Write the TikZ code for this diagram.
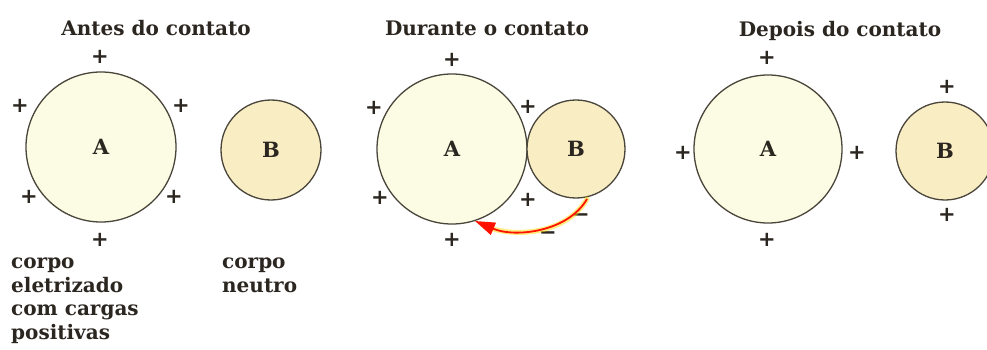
\documentclass[tikz,border=0pt]{standalone}
\usepackage{fontspec}
\setmainfont{DejaVu Serif}
\newfontfamily\lblfont{DejaVu Serif Bold}
\newfontfamily\signfont{DejaVu Sans Bold}
\usetikzlibrary{arrows.meta}
\definecolor{inkc}{HTML}{2B2620}
\definecolor{linec}{HTML}{4A453A}
\definecolor{fillA}{HTML}{FBFCE3}
\definecolor{fillB}{HTML}{F9EDC3}
\tikzset{
  ball/.style={circle, draw=linec, line width=1.3pt, inner sep=0pt, text=inkc,
    font=\lblfont\fontsize{21}{25}\selectfont},
  bigball/.style={ball, fill=fillA},
  smallball/.style={ball, fill=fillB},
  title/.style={anchor=base, inner sep=0pt, text=inkc, font=\lblfont\fontsize{20}{24}\selectfont},
  note/.style={anchor=base west, inner sep=0pt, align=left, text=inkc, font=\lblfont\fontsize{20}{23.5}\selectfont},
  plus/.style={inner sep=0pt, text=inkc, font=\signfont\fontsize{21}{21}\selectfont},
}
\begin{document}
\begin{tikzpicture}[x=1pt,y=-1pt]
\useasboundingbox[fill=white] (0,0) rectangle (987,350);
% Panel 1
\node[title] (t1) at (156,36) {Antes do contato};
\node[bigball, minimum size=150pt] (a1) at (101,147) {A};
\node[smallball, minimum size=100pt] (b1) at (271,150) {B};
\node[plus] (p11) at (100,57) {+};
\node[plus] (p12) at (20,106) {+};
\node[plus] (p13) at (181,106) {+};
\node[plus] (p14) at (29,197) {+};
\node[plus] (p15) at (174,197) {+};
\node[plus] (p16) at (100,240) {+};
\node[note] (n1) at (11,339) {corpo\\eletrizado\\com cargas\\positivas};
\node[note] (n2) at (222,292) {corpo\\neutro};
% Panel 2
\node[title] (t2) at (487,36) {Durante o contato};
\node[bigball, minimum size=150pt] (a2) at (452,149) {A};
\node[smallball, minimum size=98pt] (b2) at (576,149) {B};
\node[plus] (p21) at (452,60) {+};
\node[plus] (p22) at (374,108) {+};
\node[plus] (p23) at (528,107) {+};
\node[plus] (p24) at (380,198) {+};
\node[plus] (p25) at (528,200) {+};
\node[plus] (p26) at (452,240) {+};
\node[plus] (m21) at (581,218) {−};
\node[plus] (m22) at (548,236) {−};
\coordinate (as) at (587,199);
\coordinate (ae) at (475,221);
\draw[line width=5pt, yellow!80!orange, opacity=0.5, line cap=round] (as) .. controls (568,232) and (520,238) .. (490,228);
\draw[line width=1.8pt, red!85!orange, -{Triangle[length=20pt,width=13pt,fill=red!90!orange]}] (as) .. controls (568,232) and (515,238) .. (ae);
% Panel 3
\node[title] (t3) at (840,37) {Depois do contato};
\node[bigball, minimum size=148pt] (a3) at (768,149) {A};
\node[smallball, minimum size=98pt] (b3) at (945,151) {B};
\node[plus] (p31) at (767,58) {+};
\node[plus] (p32) at (683,153) {+};
\node[plus] (p33) at (857,153) {+};
\node[plus] (p34) at (767,240) {+};
\node[plus] (p35) at (947,87) {+};
\node[plus] (p36) at (947,215) {+};
\end{tikzpicture}
\end{document}
